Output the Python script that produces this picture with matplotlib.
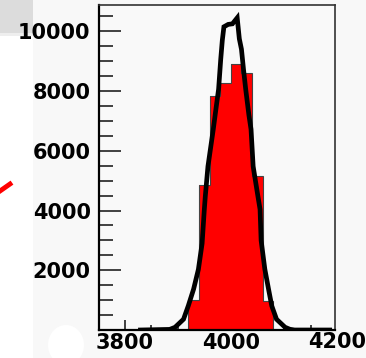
import numpy as np
import matplotlib.pyplot as plt
from matplotlib.ticker import MultipleLocator, FixedLocator
from matplotlib.patches import Rectangle, Ellipse

# Red histogram (20-unit bins)
bin_edges = [3920, 3940, 3960, 3980, 4000, 4020, 4040, 4060, 4080]
bin_counts = [1000, 4850, 7830, 8280, 8900, 8620, 5150, 960]

# Black curve
curve_x = [3830, 3885, 3895, 3911, 3920, 3930, 3939, 3946, 3950, 3952, 3957,
           3962, 3967, 3972, 3977, 3981, 3984, 3987, 3995, 4003, 4012, 4016,
           4020, 4024, 4028, 4034, 4038, 4042, 4051, 4055, 4057, 4064, 4071,
           4077, 4086, 4102, 4111, 4120, 4186]
curve_y = [0, 20, 90, 360, 810, 1370, 2030, 2900, 4000, 4480, 5480,
           6100, 6720, 7400, 8060, 9060, 9700, 10150, 10230, 10250, 10450, 9750,
           9400, 8700, 8060, 7200, 6720, 5480, 4475, 4040, 3000, 2035, 1365,
           808, 360, 92, 25, 0, 0]

y_major = [2000, 4000, 6000, 8000, 10000]
x_major = [3800, 4000]

plt.rcParams['font.family'] = ['DejaVu Sans']

fig = plt.figure(figsize=(3.66, 3.58), dpi=100, facecolor='#f8f8f8')

# screenshot leftovers around the plot (kept behind the axes)
fig.patches.append(Rectangle((0, 0), 33 / 366, 1, transform=fig.transFigure,
                             facecolor='white', edgecolor='none', zorder=-5))
fig.patches.append(Rectangle((0, 1 - 33 / 358), 33 / 366, 33 / 358, transform=fig.transFigure,
                             facecolor='#dcdcdc', edgecolor='none', zorder=-4))
fig.patches.append(Rectangle((0, 1 - 36 / 358), 33 / 366, 3 / 358, transform=fig.transFigure,
                             facecolor='#eeeeee', edgecolor='none', zorder=-4))
fig.lines.append(plt.Line2D([0, 10 / 366], [1 - 191 / 358, 1 - 184 / 358],
                            transform=fig.transFigure, color='red', lw=3.5, zorder=-3))
fig.patches.append(Ellipse((66 / 366, 1 - 345 / 358), 36 / 366, 40 / 358,
                           transform=fig.transFigure, facecolor='white', edgecolor='none',
                           zorder=-3))

ax = fig.add_axes([99 / 366, 28 / 358, 236 / 366, 325 / 358])
ax.set_facecolor('#f9f9f9')

ax.stairs(bin_counts, bin_edges, fill=True, facecolor='#ff0000', edgecolor='none', zorder=2)
ax.stairs(bin_counts, bin_edges, fill=False, edgecolor='#444444', lw=0.8, zorder=2)
ax.plot(curve_x, curve_y, color='black', lw=3.4, solid_joinstyle='miter', zorder=3)

ax.set_xlim(3752, 4196)
ax.set_ylim(0, 10880)

ax.yaxis.set_major_locator(FixedLocator(y_major))
ax.yaxis.set_minor_locator(MultipleLocator(500))
ax.xaxis.set_major_locator(FixedLocator(x_major))
ax.xaxis.set_minor_locator(MultipleLocator(50))

ax.tick_params(axis='y', which='major', direction='in', length=16, width=1.2, pad=6,
               labelsize=15, color='#222222')
ax.tick_params(axis='y', which='minor', direction='in', length=10, width=1.2, color='#222222')
ax.tick_params(axis='x', which='major', direction='in', length=7, width=1.2, pad=2,
               labelsize=15, color='#222222')
ax.tick_params(axis='x', which='minor', direction='in', length=3.6, width=1.2, color='#222222')
for lab in ax.get_xticklabels() + ax.get_yticklabels():
    lab.set_fontweight('bold')

# 4200 sits just past the right edge
ax.text(4200, -0.006, '4200', transform=ax.get_xaxis_transform(), ha='center', va='top',
        fontsize=15, fontweight='bold', clip_on=False)

for side in ['left', 'bottom']:
    ax.spines[side].set_linewidth(1.6)
    ax.spines[side].set_color('black')
for side in ['top', 'right']:
    ax.spines[side].set_linewidth(1.2)
    ax.spines[side].set_color('#333333')

fig.savefig('out.png', dpi=100, facecolor=fig.get_facecolor())
